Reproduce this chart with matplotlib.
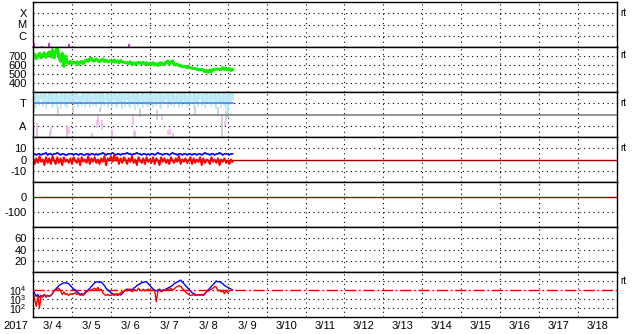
import matplotlib
matplotlib.use('Agg')
import matplotlib.pyplot as plt
import numpy as np

plt.rcParams['font.family'] = ['Liberation Sans', 'DejaVu Sans']
plt.rcParams['mathtext.default'] = 'regular'
plt.rcParams['axes.unicode_minus'] = False
plt.rcParams['font.size'] = 8

# ---------------- data (hourly from 3/4 00:00) ----------------
day_labels = ["3/ 4", "3/ 5", "3/ 6", "3/ 7", "3/ 8", "3/ 9", "3/10", "3/11",
              "3/12", "3/13", "3/14", "3/15", "3/16", "3/17", "3/18"]
year_label = "2017"

# top panel (X/M/C): short magenta marks (day, height)
mag_day = [0.03, 0.22, 0.41, 0.93, 2.46]
mag_high = [0.35, 0.12, 0.38, 0.3, 0.3]

# panel 2: green series
green = [690, 720, 670, 705, 730, 680, 710, 735, 685, 720, 745, 690, 770, 680, 750, 790, 690, 640, 730, 585, 700, 630, 615, 640,
         615, 630, 620, 635, 605, 630, 640, 615, 645, 655, 640, 670, 675, 645, 650, 665, 650, 635, 655, 665, 640, 655, 635, 640,
         650, 635, 655, 630, 645, 625, 650, 635, 630, 625, 625, 615, 635, 610, 625, 605, 620, 630, 625, 615, 630, 610, 625, 605,
         620, 605, 625, 600, 615, 595, 620, 625, 605, 610, 630, 645, 610, 635, 645, 605, 600, 610, 590, 595, 580, 585, 585, 570,
         575, 570, 565, 560, 560, 555, 545, 550, 550, 545, 525, 540, 520, 545, 525, 550, 550, 555, 555, 550, 550, 570, 550, 565,
         545, 560, 540, 550]

# panel 3 (T/A): light-blue columns (bottom / top values)
lb_bottom = [2.9, 3.2, 2.6, 3.0, 2.8, 3.3, 2.7, 3.1, 2.5, 3.0, 2.9, 3.2, 2.6, 2.8, 3.1, 2.7, 3.0, 2.5, 2.9, 3.2, 2.8, 2.6, 3.0, 2.9,
             3.1, 2.7, 2.9, 3.3, 2.6, 3.0, 2.8, 3.2, 2.7, 2.9, 3.1, 2.6, 3.0, 2.8, 3.3, 2.7, 2.9, 3.1, 2.5, 3.0, 2.8, 3.2, 2.6, 2.9,
             3.0, 2.7, 3.2, 2.8, 2.6, 3.1, 2.9, 2.5, 3.0, 2.7, 3.3, 2.8, 2.6, 3.0, 2.9, 2.4, 3.1, 2.7, 2.9, 3.2, 2.6, 3.0, 2.8, 2.7,
             3.1, 2.9, 2.6, 3.2, 2.8, 3.0, 2.7, 2.5, 3.1, 2.9, 3.3, 2.6, 3.0, 2.8, 3.2, 2.7, 2.9, 3.1, 2.6, 3.0, 2.8, 3.2, 2.9, 2.7,
             3.0, 2.8, 3.2, 2.6, 3.1, 2.9, 2.7, 3.3, 2.8, 3.0, 2.6, 3.1, 2.9, 3.2, 2.7, 3.0, 2.8, 2.5, 3.1, 2.9, 2.6, 3.0, 2.8, 2.4,
             1.7, 3.2, 3.0, 3.3]
lb_top = [3.9, 4.0, 3.8, 3.95, 3.7, 4.0, 3.85, 3.9, 4.0, 3.75, 3.95, 3.9, 4.0, 3.8, 3.9, 4.0, 3.7, 3.95, 3.9, 3.8, 4.0, 3.9, 3.75, 3.95,
          4.0, 3.8, 3.9, 4.0, 3.85, 3.7, 3.95, 3.9, 4.0, 3.8, 3.9, 3.95, 3.75, 4.0, 3.9, 3.85, 4.0, 3.8, 3.9, 3.95, 3.7, 4.0, 3.9, 3.85,
          3.95, 3.8, 4.0, 3.9, 3.75, 3.95, 3.9, 4.0, 3.8, 3.85, 3.9, 4.0, 3.7, 3.95, 3.9, 3.8, 4.0, 3.9, 3.75, 3.95, 4.0, 3.8, 3.9, 3.85,
          3.9, 4.0, 3.8, 3.95, 3.7, 3.9, 4.0, 3.85, 3.9, 3.75, 4.0, 3.9, 3.8, 3.95, 3.9, 4.0, 3.7, 3.9, 3.95, 3.8, 4.0, 3.85, 3.9, 3.75,
          3.9, 4.0, 3.8, 3.9, 3.95, 3.7, 3.9, 4.0, 3.85, 3.8, 3.95, 3.9, 4.0, 3.75, 3.9, 3.85, 4.0, 3.8, 3.9, 3.95, 3.7, 3.9, 4.0, 3.85,
          3.9, 3.8, 3.95, 3.9]
grey_day = [0.03, 0.10, 0.43, 0.64, 0.87, 1.02, 1.52, 1.72, 2.03, 2.62, 2.75, 3.19, 3.60, 4.15, 4.75, 4.86, 4.95]
grey_low = [2.2, 0.0, 0.0, 1.9, 0.0, 2.1, 0.0, 2.2, 0.0, 0.0, 1.8, 1.5, 0.0, 2.0, 1.9, 0.0, 1.4]
grey_high = [2.9, 0.6, 0.5, 2.7, 0.8, 2.8, 0.4, 2.6, 0.6, 0.5, 2.6, 2.4, 0.4, 2.8, 2.7, 1.6, 2.3]
pink_day = [0.10, 0.46, 0.87, 0.92, 1.64, 1.67, 1.77, 2.03, 2.57, 2.60, 3.31, 3.47, 3.52, 4.86, 4.93]
pink_low = [0.18, 0.18, 0.18, 0.30, 0.80, 1.15, 0.62, 0.18, 1.07, 0.00, 1.50, 0.18, 0.18, 1.50, 1.00]
pink_high = [1.24, 0.89, 1.07, 0.90, 1.50, 1.96, 1.50, 0.62, 1.96, 0.62, 1.85, 0.62, 0.70, 1.96, 1.40]

# panel 4: blue and red series
blue4 = [4, 5, 4, 5, 5, 4, 5, 5, 6, 4, 5, 5, 4, 5, 5, 6, 5, 4, 5, 5, 4, 4, 5, 5,
         5, 4, 5, 5, 4, 5, 5, 4, 4, 5, 5, 4, 5, 5, 4, 5, 4, 5, 5, 6, 5, 4, 5, 5,
         5, 6, 5, 4, 5, 5, 4, 5, 5, 5, 6, 5, 5, 4, 5, 5, 6, 5, 5, 4, 5, 5, 4, 5,
         4, 5, 5, 4, 5, 6, 5, 5, 4, 5, 5, 5, 4, 5, 6, 5, 5, 4, 5, 5, 4, 5, 5, 4,
         5, 5, 4, 5, 5, 4, 5, 5, 4, 5, 6, 5, 5, 4, 5, 5, 4, 5, 5, 6, 5, 4, 5, 5,
         5, 4, 5, 5]
red4 = [2, -4, 1, -3, 3, -2, 0, -5, 2, -3, 1, -4, 3, -1, -4, 2, -3, 1, -5, 2, -2, 0, -3, 1,
        -4, 2, -1, -3, 1, -5, 2, -2, 0, -3, 3, -4, 1, -2, 2, -3, 0, -4, 1, -2, 3, -5, 1, -1,
        3, -2, 4, -1, 2, -4, 1, -3, 2, 0, -4, 1, -2, 3, -3, 0, -5, 2, -1, -3, 1, -4, 2, -2,
        0, -3, 2, -4, 1, -1, -5, 2, -2, 1, -3, 0, -4, 2, -1, -3, 1, -2, 3, -4, 0, -2, 1, -3,
        -1, 2, -4, 1, -3, 0, -2, 2, -5, 1, -3, 0, -1, -4, 2, -2, 0, -3, 1, -5, 0, -2, 1, -3,
        -1, -4, 0, -2]

# bottom panel: log10 of blue and red series
blue_log10 = [4.0, 3.6, 3.3, 3.5, 3.2, 3.4, 3.3, 3.5, 3.2, 3.4, 3.3, 3.4, 3.6, 3.9, 4.1, 4.3, 4.5, 4.6, 4.7, 4.8, 4.8, 4.75, 4.7, 4.5,
              4.3, 4.1, 4.0, 3.8, 3.7, 3.5, 3.6, 3.45, 3.7, 3.9, 4.0, 4.2, 4.4, 4.6, 4.8, 4.9, 4.9, 4.85, 4.9, 4.7, 4.5, 4.2, 4.0, 3.9,
              3.7, 3.6, 3.5, 3.55, 3.4, 3.5, 3.45, 3.6, 3.8, 4.0, 4.1, 4.0, 4.1, 4.0, 4.2, 4.3, 4.5, 4.6, 4.7, 4.8, 4.85, 4.9, 4.9, 4.7,
              4.5, 4.3, 4.1, 4.0, 3.9, 4.0, 4.1, 3.9, 4.0, 4.0, 4.1, 4.2, 4.3, 4.4, 4.5, 4.7, 4.8, 4.9, 5.0, 5.1, 4.9, 4.7, 4.5, 4.3,
              4.1, 3.9, 3.7, 3.6, 3.5, 3.4, 3.5, 3.4, 3.5, 3.4, 3.6, 3.8, 4.0, 4.2, 4.4, 4.6, 4.8, 5.0, 4.9, 4.95, 4.8, 4.7, 4.5, 4.4,
              4.3, 4.2, 4.1, 4.0]
red_log10 = [3.8, 3.0, 2.2, 3.3, 2.0, 3.4, 3.2, 3.5, 3.3, 3.4, 3.3, 3.4, 3.6, 3.9, 4.0, 4.1, 4.2, 3.9, 3.5, 3.8, 3.5, 3.6, 3.4, 3.6,
             3.5, 3.6, 3.7, 3.5, 3.6, 3.4, 3.5, 3.4, 3.6, 3.8, 3.9, 4.0, 4.0, 4.1, 4.2, 4.0, 4.3, 3.9, 4.1, 3.7, 3.5, 3.4, 3.5, 3.4,
             3.4, 3.5, 3.4, 3.5, 3.6, 3.5, 3.7, 3.8, 3.9, 4.0, 3.9, 4.1, 4.0, 3.8, 4.1, 4.0, 3.9, 4.2, 4.0, 3.9, 4.1, 3.9, 4.0, 4.1,
             4.0, 3.9, 4.0, 3.9, 2.7, 3.9, 4.0, 3.8, 3.9, 4.0, 4.1, 4.0, 4.1, 4.2, 4.0, 4.1, 4.3, 4.4, 4.5, 4.4, 4.2, 4.0, 3.8, 3.6,
             3.5, 3.4, 3.4, 3.5, 3.4, 3.4, 3.5, 3.4, 3.5, 3.5, 3.6, 3.8, 3.9, 4.0, 4.1, 4.2, 4.4, 4.3, 3.9, 4.0, 3.8, 3.9, 3.6, 3.9,
             3.7, 3.9, 4.0, 4.0]

# ---------------- figure ----------------
W, H = 633, 334
fig = plt.figure(figsize=(W / 100, H / 100), dpi=100)
L, R = 33, 617
tops = [2, 47, 92, 137, 182, 227, 272]
axes = []
for tp in tops:
    ax = fig.add_axes([L / W, 1 - (tp + 45) / H, (R - L) / W, 45 / H])
    ax.set_xlim(0, 15)
    for s in ax.spines.values():
        s.set_linewidth(1.0)
        s.set_zorder(10)
    ax.tick_params(length=0, pad=4.5, labelsize=8)
    ax.set_xticks([])
    for d in range(1, 15):
        ax.axvline(d, color='black', lw=0.8, ls=(0, (1, 3.2)), zorder=1)
    axes.append(ax)

hrs = np.arange(len(green)) / 24.0
dot = dict(color='black', lw=0.8, ls=(0, (1, 3.2)), zorder=1)

# panel 1
ax = axes[0]
ax.set_ylim(0, 4)
ax.set_yticks([3, 2, 1]); ax.set_yticklabels(['X', 'M', 'C'])
for v in [3, 2, 1]:
    ax.axhline(v, **dot)
ax.vlines(mag_day, 0, mag_high, color='#e000e0', lw=1.2, zorder=3)

# panel 2
ax = axes[1]
ax.set_ylim(300, 800)
ax.set_yticks([700, 600, 500, 400])
for v in [700, 600, 500, 400]:
    ax.axhline(v, **dot)
ax.plot(hrs, green, color='#11ee00', lw=2.2, zorder=3)

# panel 3
ax = axes[2]
ax.set_ylim(0, 4)
ax.set_yticks([3, 1]); ax.set_yticklabels(['T', 'A'])
ax.axhline(1, **dot)
ax.axhline(3, **dot)
ax.vlines(hrs, lb_bottom, lb_top, color='#aee6f8', lw=1.1, zorder=2)
ax.vlines(grey_day, grey_low, grey_high, color='#c8c8c8', lw=1.2, zorder=2)
ax.vlines(pink_day, pink_low, pink_high, color='#f5b4f0', lw=1.2, zorder=2)
ax.axhline(2, color='#808080', lw=1.2, zorder=3)
ax.plot([hrs[0], hrs[-1]], [3, 3], color='#4a86f0', lw=1.2, zorder=4)

# panel 4
ax = axes[3]
ax.set_ylim(-20, 20)
ax.set_yticks([10, 0, -10])
for v in [10, -10]:
    ax.axhline(v, **dot)
ax.axhline(0, color='#a00000', lw=1.0, zorder=2)
ax.plot(hrs, blue4, color='#0000ff', lw=1.2, zorder=3)
ax.plot(hrs, red4, color='#ff0000', lw=1.4, zorder=4)

# panel 5
ax = axes[4]
ax.set_ylim(-200, 100)
ax.set_yticks([0, -100])
ax.axhline(-100, **dot)
ax.axhline(0, color='#a00000', lw=1.0, zorder=2)

# panel 6
ax = axes[5]
ax.set_ylim(0, 80)
ax.set_yticks([60, 40, 20])
for v in [60, 40, 20]:
    ax.axhline(v, **dot)

# panel 7 (log)
ax = axes[6]
ax.set_yscale('log')
ax.set_ylim(10, 1e6)
ax.set_yticks([1e4, 1e3, 1e2])
ax.set_yticklabels(['$10^4$', '$10^3$', '$10^2$'])
ax.minorticks_off()
ax.tick_params(axis='y', length=0, pad=4.5, labelsize=7.5)
for v in [1e5, 1e3, 1e2]:
    ax.axhline(v, **dot)
ax.axhline(1e4, color='#e00000', lw=1.0, ls=(0, (8, 2, 1.2, 2)), zorder=2)
ax.plot(hrs, 10 ** np.array(blue_log10), color='#0000ff', lw=1.0, zorder=3)
ax.plot(hrs, 10 ** np.array(red_log10), color='#ff0000', lw=1.0, zorder=4)
ax.set_xticks(np.arange(15) + 0.5)
ax.set_xticklabels(day_labels)
ax.tick_params(axis='x', length=0, pad=3, labelsize=8)

fig.text(3 / W, 1 - 326 / H, year_label, ha='left', va='center', fontsize=8)

# right-hand small labels
for ax, v in zip([axes[0], axes[1], axes[2], axes[3], axes[6]], [3, 710, 3, 10, 1e5]):
    ax.text(1.006, v, 'rt', transform=ax.get_yaxis_transform(), ha='left', va='center', fontsize=7)

fig.savefig('out.png', dpi=100)
